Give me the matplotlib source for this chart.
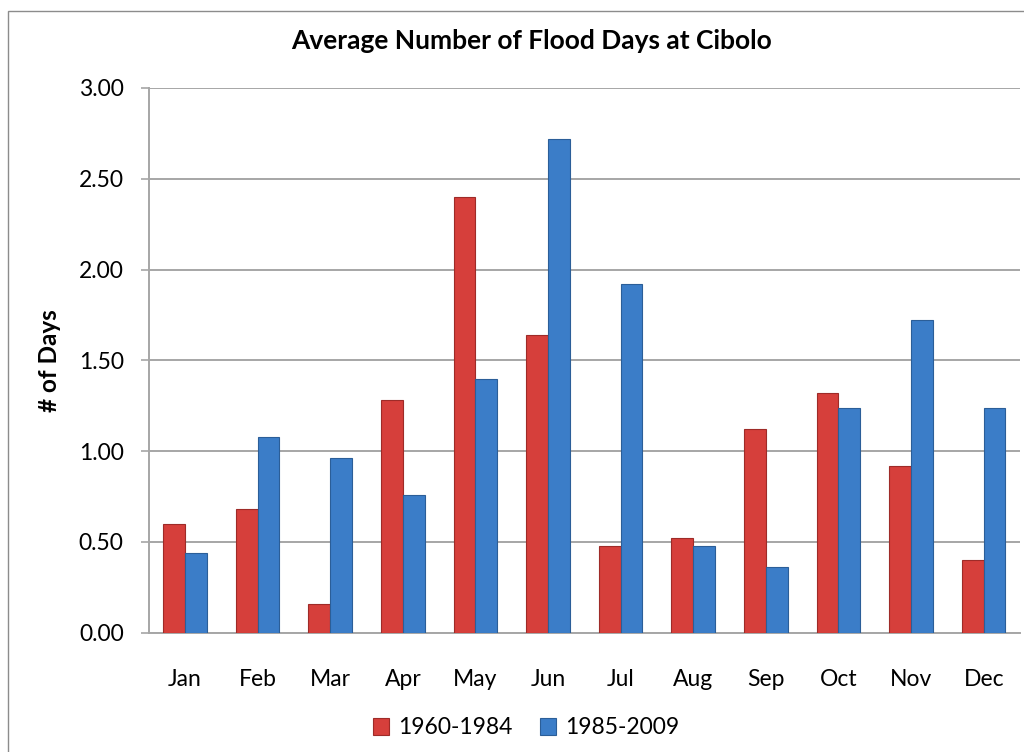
import matplotlib.pyplot as plt
import numpy as np
from matplotlib.patches import Rectangle

MONTHS = ["Jan", "Feb", "Mar", "Apr", "May", "Jun",
          "Jul", "Aug", "Sep", "Oct", "Nov", "Dec"]
EARLY = [0.60, 0.68, 0.16, 1.28, 2.40, 1.64, 0.48, 0.52, 1.12, 1.32, 0.92, 0.40]
LATE = [0.44, 1.08, 0.96, 0.76, 1.40, 2.72, 1.92, 0.48, 0.36, 1.24, 1.72, 1.24]
LABELS = ("1960-1984", "1985-2009")
YTICKS = [0.0, 0.5, 1.0, 1.5, 2.0, 2.5, 3.0]

RED, RED_EDGE = "#D63F3B", "#9E2B28"
BLUE, BLUE_EDGE = "#3B7DC8", "#2B5E98"
GRID = "#A6A6A6"

plt.rcParams["font.family"] = ["Lato", "DejaVu Sans"]

fig = plt.figure(figsize=(10.24, 7.52), dpi=100)
# outer chart frame (left and top edges visible, rest cropped)
fig.patches.append(Rectangle((8 / 1024, -0.1), 1.2, 1 - 11 / 752 + 0.1,
                             transform=fig.transFigure, fill=False,
                             edgecolor="#8C8C8C", linewidth=1.0))

ax = fig.add_axes([148.7 / 1024, 1 - 632.7 / 752,
                   (1020 - 148.7) / 1024, (632.7 - 88) / 752])

x = np.arange(len(MONTHS))
w = 0.30
ax.bar(x - w / 2, EARLY, width=w, color=RED, edgecolor=RED_EDGE,
       linewidth=0.8, label=LABELS[0], zorder=3)
ax.bar(x + w / 2, LATE, width=w, color=BLUE, edgecolor=BLUE_EDGE,
       linewidth=0.8, label=LABELS[1], zorder=3)

ax.set_xlim(-0.5, len(MONTHS) - 0.5)
ax.set_ylim(0, 3.0)
ax.set_yticks(YTICKS)
ax.set_yticklabels([f"{v:.2f}" for v in YTICKS])
ax.set_xticks(x)
ax.set_xticklabels(MONTHS)
ax.yaxis.grid(True, color=GRID, linewidth=1.4, zorder=0)
ax.set_axisbelow(True)

for s in ("top", "right"):
    ax.spines[s].set_visible(False)
for s in ("left", "bottom"):
    ax.spines[s].set_color(GRID)
    ax.spines[s].set_linewidth(1.4)
ax.tick_params(axis="y", length=6, color=GRID, width=1.2, labelsize=16.5, pad=12)
ax.tick_params(axis="x", length=0, labelsize=16.5, pad=26)

ax.set_ylabel("# of Days", fontsize=17.5, fontweight="bold", labelpad=13)
fig.text(532 / 1024, 1 - 41 / 752, "Average Number of Flood Days at Cibolo",
         ha="center", va="center", fontsize=19, fontweight="bold")

handles, labels = ax.get_legend_handles_labels()
fig.legend(handles, labels, loc="center",
           bbox_to_anchor=(526 / 1024, 1 - 728 / 752), ncol=2, frameon=False,
           fontsize=16.5, handlelength=0.7, handleheight=0.7,
           handletextpad=0.4, columnspacing=1.2)

fig.savefig("out.png", dpi=100)
